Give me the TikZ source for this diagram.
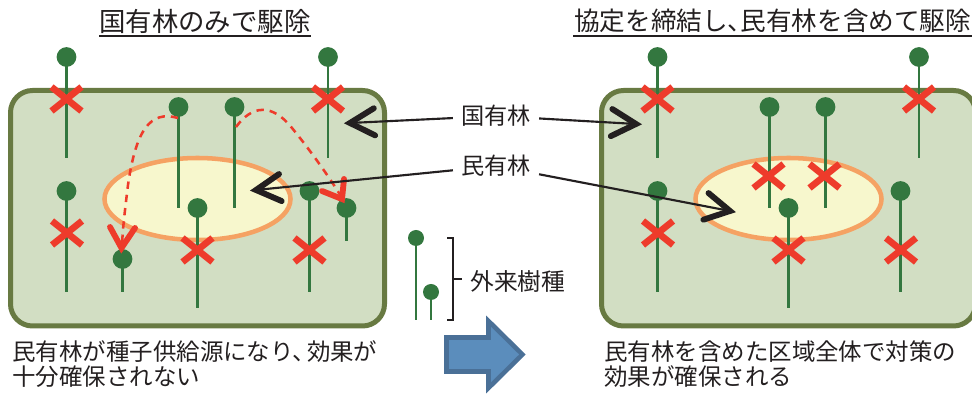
\documentclass[tikz,border=0pt]{standalone}
\usepackage{fontspec}
\setmainfont{Noto Sans CJK JP}
\usetikzlibrary{calc}
\definecolor{boxfill}{HTML}{D2DEC3}
\definecolor{boxline}{HTML}{687A42}
\definecolor{ellfill}{HTML}{F7F7CD}
\definecolor{ellline}{HTML}{F5A263}
\definecolor{treecol}{HTML}{33773F}
\definecolor{redcol}{HTML}{EE3B2B}
\definecolor{inkcol}{HTML}{231F20}
\definecolor{bluefill}{HTML}{5B8DBC}
\definecolor{blueline}{HTML}{4A7097}
\tikzset{
  x=0.75pt,y=-0.75pt,
  region/.style={draw=boxline,fill=boxfill,line width=3.75pt,rounded corners=16.5pt},
  privatearea/.style={draw=ellline,fill=ellfill,line width=3.4pt},
  treehead/.style={circle,fill=treecol,minimum size=14.8pt,inner sep=0pt},
  treestem/.style={draw=treecol,line width=1.9pt},
  crossmark/.style={draw=redcol,line width=5pt},
  seedpath/.style={draw=redcol,line width=1.9pt,dash pattern=on 5.5pt off 4.5pt},
  seedtip/.style={draw=redcol,line width=4.4pt,line cap=round,line join=miter},
  label/.style={inner sep=6pt,text=inkcol,font=\fontsize{17.4pt}{20pt}\selectfont},
  bodytext/.style={inner sep=0pt,anchor=west,text=inkcol,font=\fontsize{17.6pt}{20pt}\selectfont},
  pointer/.style={draw=inkcol,line width=1.6pt},
  pointerhead/.style={draw=inkcol,line width=4.4pt,line cap=round,line join=miter},
}
\newcommand{\mytree}[4]{%
  \node[treehead] (#1) at (#2,#3) {};
  \coordinate (#1b) at (#2,#4);
  \draw[treestem] (#1.center) -- (#1b);
}
\newcommand{\mylegendtree}[4]{%
  \node[treehead,minimum size=12pt] (#1) at (#2,#3) {};
  \coordinate (#1b) at (#2,#4);
  \draw[treestem] (#1.center) -- (#1b);
}
\newcommand{\mycross}[2]{%
  \draw[crossmark] (#1,#2) +(-15,-12) -- +(15,12) +(-15,12) -- +(15,-12);
}
\newcommand{\mypointer}[2]{%
  \draw[pointer] (#1) -- (#2);
  \draw[pointerhead] ($(#2)!21pt!29:(#1)$) -- (#2) -- ($(#2)!21pt!-29:(#1)$);
}
\begin{document}
\begin{tikzpicture}
\clip (0,0) rectangle (972,398);
% titles
\node[inner sep=0pt,text=inkcol,font=\fontsize{19.8pt}{22pt}\selectfont] (titleL) at (205,21) {国有林のみで駆除};
\draw[inkcol,line width=2.2pt] (99,36) -- (311,36);
\node[inner sep=0pt,text=inkcol,font=\fontsize{19.2pt}{22pt}\selectfont,anchor=west] (titleR) at (574,21) {協定を締結し、\kern-0.5em民有林を含めて駆除};
\draw[inkcol,line width=2.2pt] (573,36) -- (972,36);
% regions
\draw[region] (10.5,90.5) rectangle (384.5,326);
\draw[region] (601.5,90.5) rectangle (975.5,326);
\draw[privatearea] (197.5,199) ellipse [x radius=93,y radius=41];
\draw[privatearea] (788.5,199) ellipse [x radius=93,y radius=41];
% left trees
\mytree{a1}{66.5}{57}{158}
\mytree{a2}{328}{57}{158}
\mytree{a3}{178.5}{107}{208}
\mytree{a4}{234.5}{107}{208}
\mytree{a5}{66.5}{191}{292}
\mytree{a6}{122.5}{259}{292}
\mytree{a7}{197.5}{208}{308}
\mytree{a8}{309.5}{191}{292}
\mytree{a9}{346.5}{208}{241}
% right trees
\mytree{b1}{657.5}{57}{158}
\mytree{b2}{919}{57}{158}
\mytree{b3}{769.5}{107}{208}
\mytree{b4}{825.5}{107}{208}
\mytree{b5}{657.5}{191}{292}
\mytree{b7}{788.5}{208}{308}
\mytree{b8}{900.5}{191}{292}
% legend trees
\mylegendtree{c1}{416}{238}{320}
\mylegendtree{c2}{431}{292}{320}
% crosses
\mycross{66.5}{99}
\mycross{328}{99}
\mycross{67}{233}
\mycross{197.5}{250}
\mycross{309.5}{250}
\mycross{657.5}{99}
\mycross{919}{99}
\mycross{658}{233}
\mycross{768.5}{176}
\mycross{824.5}{176}
\mycross{788.5}{250}
\mycross{901}{250}
% seed dispersal
\coordinate (s1) at (122,245);
\coordinate (s2) at (342,198);
\coordinate (a3s) at (178,118);
\coordinate (a4s) at (236,127);
\draw[seedpath] (a3s) .. controls (150,110) and (136,130) .. (128,185) .. controls (125,210) and (123,225) .. (s1);
\draw[seedtip] (110,227) -- (121.5,248) -- (135,228);
\draw[seedpath] (a4s) .. controls (252,105) and (272,103) .. (292,128) .. controls (310,150) and (330,178) .. (s2);
\draw[seedtip] (322,191) -- (342,199) -- (344,179);
% legend bracket
\coordinate (br) at (462,279);
\draw[inkcol,line width=1.1pt] (447,238) -- (453,238) -- (453,320) -- (447,320);
\draw[inkcol,line width=1.1pt] (453,279) -- (br);
\node[inner sep=0pt,text=inkcol,anchor=west,font=\fontsize{17.8pt}{20pt}\selectfont] (gairai) at (470,281) {外来樹種};
% labels
\node[label] (kok) at (496,116) {国有林};
\node[label] (min) at (496,166) {民有林};
\coordinate (k1) at (350,123);
\coordinate (k2) at (636,124);
\coordinate (m1) at (256,190);
\coordinate (m2) at (730,211);
\mypointer{kok}{k1}
\mypointer{kok}{k2}
\mypointer{min}{m1}
\mypointer{min}{m2}
% blue arrow
\draw[draw=blueline,fill=bluefill,line width=3.4pt,line join=miter,miter limit=10]
  (446.5,337.5) -- (488.5,337.5) -- (488.5,321) -- (522.5,354.5) -- (488.5,388) -- (488.5,371.5) -- (446.5,371.5) -- cycle;
% body text
\node[bodytext] (t1) at (12,352) {民有林が種子供給源になり、\kern-0.4em効果が};
\node[bodytext] (t2) at (12,377) {十分確保されない};
\node[bodytext] (t3) at (604,352) {民有林を含めた区域全体で対策の};
\node[bodytext] (t4) at (604,377) {効果が確保される};
\end{tikzpicture}
\end{document}
